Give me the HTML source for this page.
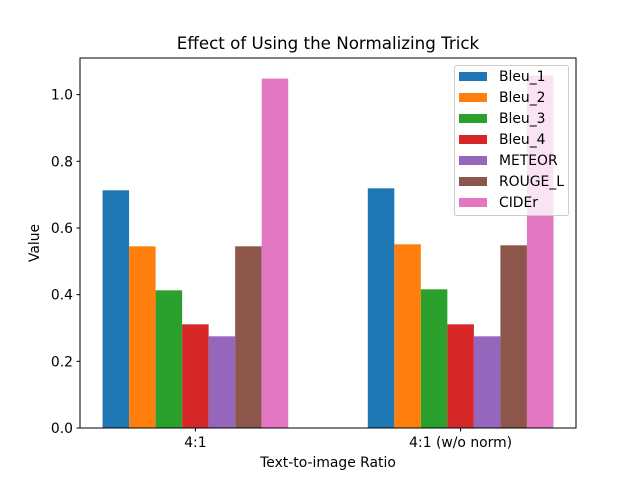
<!DOCTYPE html>
<html><head><meta charset="utf-8"><style>
body{margin:0;background:#fff;}
svg text{font-family:"DejaVu Sans","Liberation Sans",sans-serif;fill:#000;}
</style></head><body>
<svg id="chart" width="640" height="480" xmlns="http://www.w3.org/2000/svg">
<rect width="640" height="480" fill="#fff"/>
<g id="bars"></g>
<g id="axes"></g>
<g id="legend"></g>
</svg>
<script>
const categories = ["4:1", "4:1 (w/o norm)"];
const seriesNames = ["Bleu_1","Bleu_2","Bleu_3","Bleu_4","METEOR","ROUGE_L","CIDEr"];
const seriesValues = [
  [0.713, 0.719],
  [0.545, 0.551],
  [0.413, 0.416],
  [0.311, 0.311],
  [0.275, 0.275],
  [0.545, 0.548],
  [1.048, 1.057]
];
const yTicks = [0.0, 0.2, 0.4, 0.6, 0.8, 1.0];
const colors = ["#1f77b4","#ff7f0e","#2ca02c","#d62728","#9467bd","#8c564b","#e377c2"];

const NS = "http://www.w3.org/2000/svg";
const L = 80, R = 576, T = 58, B = 428;
const barW = 0.1;
const nS = seriesNames.length;
const xMinData = -nS*barW/2, xMaxData = categories.length - 1 + nS*barW/2;
const xPad = (xMaxData - xMinData) * 0.05;
const x0 = xMinData - xPad, x1 = xMaxData + xPad;
let maxV = 0; seriesValues.forEach(s => s.forEach(v => { if (v > maxV) maxV = v; }));
const yMax = maxV * 1.05;
const xs = v => L + (v - x0) / (x1 - x0) * (R - L);
const ys = v => B - v / yMax * (B - T);

function mk(tag, attrs, parent) {
  const e = document.createElementNS(NS, tag);
  for (const k in attrs) e.setAttribute(k, attrs[k]);
  parent.appendChild(e);
  return e;
}
const svg = document.getElementById("chart");
const gb = document.getElementById("bars");
const ga = document.getElementById("axes");
const gl = document.getElementById("legend");

seriesValues.forEach((s, i) => {
  s.forEach((v, j) => {
    const left = xs(j + (i - nS/2) * barW), right = xs(j + (i - nS/2 + 1) * barW);
    const r = mk("rect", {x: left, y: ys(v), width: right - left, height: ys(0) - ys(v), fill: colors[i]}, gb);
    
    
  });
});

const fr = mk("rect", {x: L, y: T, width: R - L, height: B - T, fill: "none", stroke: "#000", "stroke-width": 1}, ga);



yTicks.forEach(t => {
  const y = ys(t);
  mk("line", {x1: L - 3.5, x2: L, y1: y, y2: y, stroke: "#000"}, ga);
  const tx = mk("text", {x: L - 7, y: y + 5, "text-anchor": "end", "font-size": 13.9}, ga);
  tx.textContent = t.toFixed(1);
  
  
});
categories.forEach((c, j) => {
  const x = xs(j);
  mk("line", {x1: x, x2: x, y1: B, y2: B + 3.5, stroke: "#000"}, ga);
  const tx = mk("text", {x: x, y: B + 19, "text-anchor": "middle", "font-size": 13.9}, ga);
  tx.textContent = c;
  
  
});

const title = mk("text", {x: (L + R)/2, y: 49, "text-anchor": "middle", "font-size": 16.7}, svg);
title.textContent = "Effect of Using the Normalizing Trick";


const xt = mk("text", {x: (L + R)/2, y: 467, "text-anchor": "middle", "font-size": 13.9}, svg);
xt.textContent = "Text-to-image Ratio";


const yt = mk("text", {x: 39, y: (T + B)/2, "text-anchor": "middle", "font-size": 13.9, transform: "rotate(-90 39 " + (T + B)/2 + ")"}, svg);
yt.textContent = "Value";



const lb = mk("rect", {x: 454.5, y: 65.5, width: 114, height: 150, rx: 2, fill: "#fff", "fill-opacity": 0.8, stroke: "#ccc", "stroke-width": 1}, gl);


seriesNames.forEach((n, i) => {
  const cy = 76 + i * 21;
  const p = mk("rect", {x: 459, y: cy - 4, width: 28, height: 9, fill: colors[i]}, gl);
  
  
  const t = mk("text", {x: 499, y: cy + 5, "font-size": 13.9}, gl);
  t.textContent = n;
  
  
});
</script>
</body></html>
